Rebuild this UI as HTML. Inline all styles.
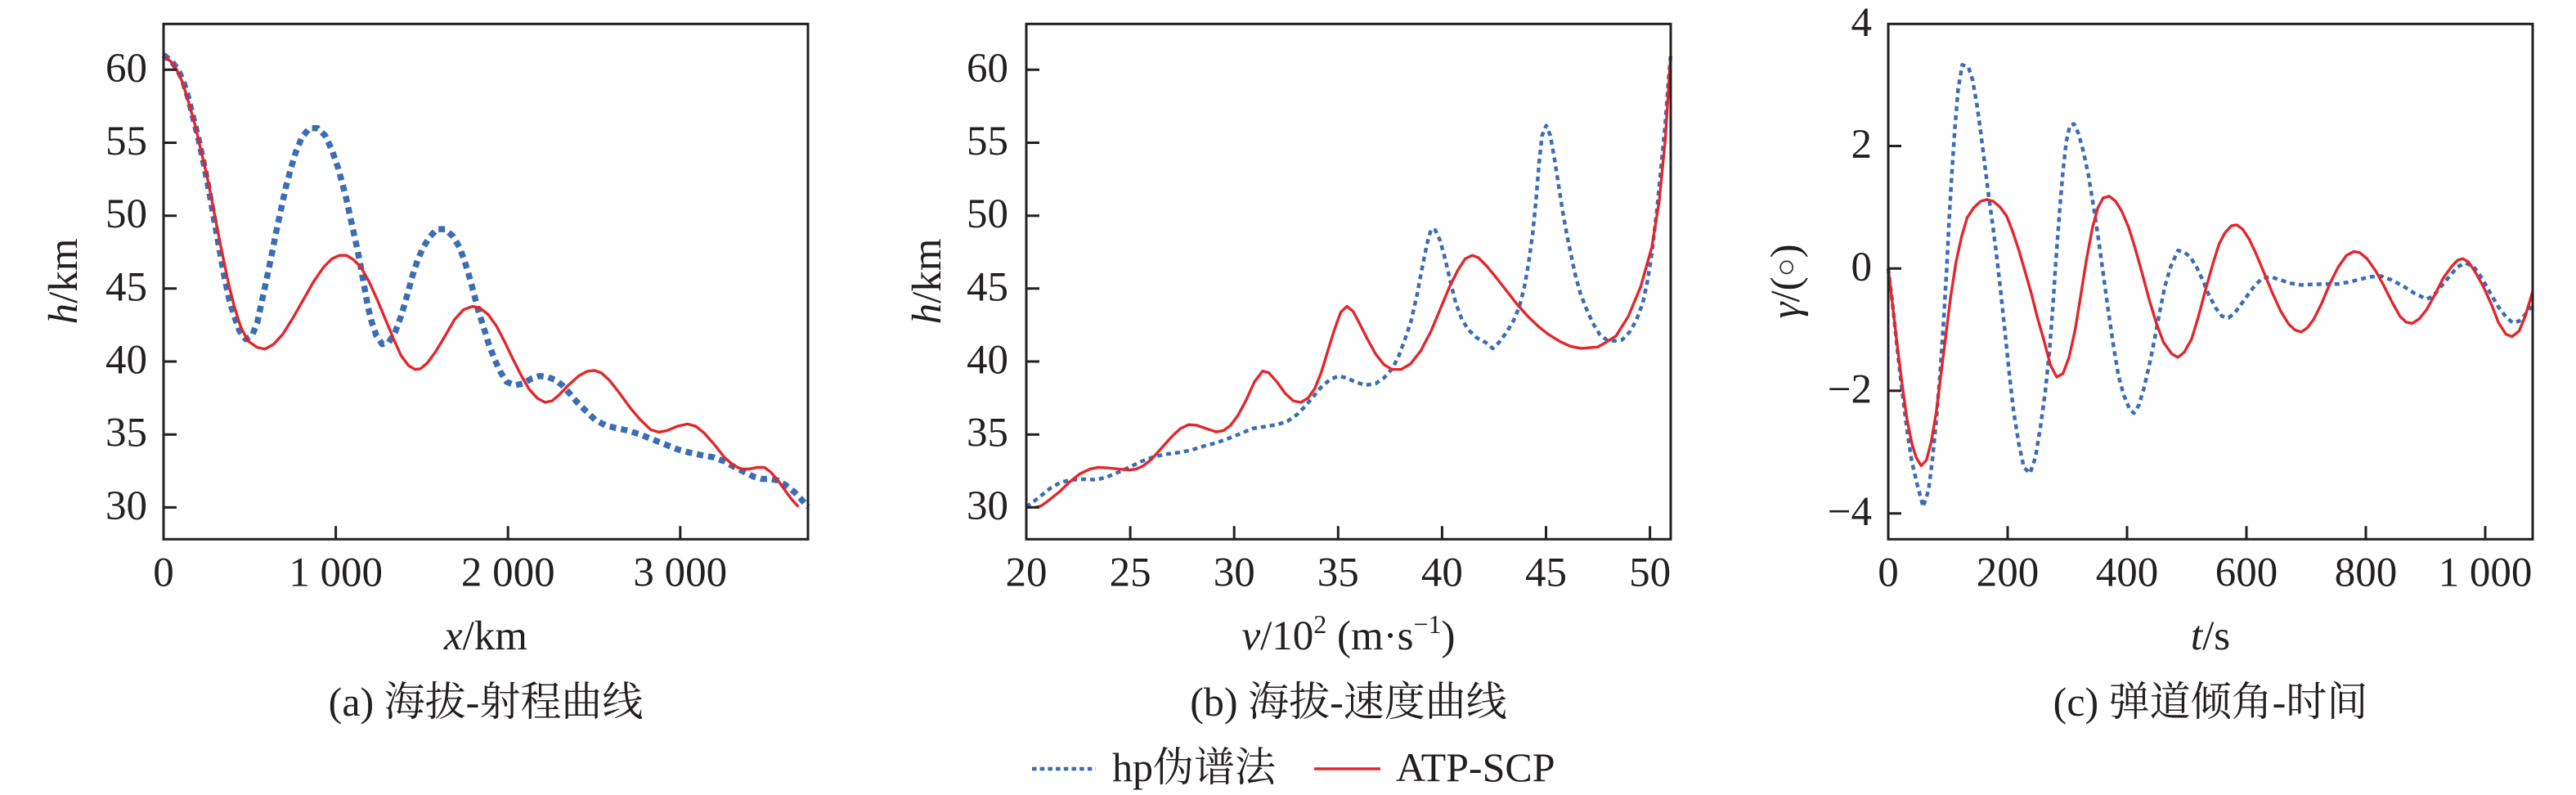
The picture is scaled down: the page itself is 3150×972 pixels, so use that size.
<!DOCTYPE html>
<html><head><meta charset="utf-8"><style>
html,body{margin:0;padding:0;background:#fff;}
svg{display:block;}
text{font-family:"Liberation Serif","Noto Serif CJK SC",serif;fill:#231f20;}
</style></head><body>
<svg width="3150" height="972" viewBox="0 0 3150 972" xmlns="http://www.w3.org/2000/svg">
<rect width="3150" height="972" fill="#fff"/>

<!-- ============ PANEL A ============ -->
<g transform="translate(200,29) scale(0.50255,0.40179)" fill="none" stroke-linejoin="round">
<polyline vector-effect="non-scaling-stroke" stroke="#3b6db5" stroke-width="7.5" stroke-dasharray="8 6" points="0,95 20,115 35,140 48,175 60,225 72,285 85,350 97,420 108,490 118,560 128,630 138,700 148,770 160,840 172,890 185,935 200,960 215,950 228,910 240,840 252,770 262,710 273,640 285,570 297,500 310,440 322,390 337,345 355,318 375,318 393,340 410,385 425,440 436,490 447,545 458,610 467,660 477,720 487,790 497,860 507,910 518,950 532,975 548,970 563,940 578,890 592,830 605,770 618,720 632,680 648,648 665,625 685,625 705,648 720,680 732,720 743,765 755,820 765,870 778,920 790,970 805,1020 820,1060 835,1090 855,1100 875,1095 895,1080 915,1072 935,1075 955,1085 970,1100 988,1125 1005,1150 1025,1175 1050,1205 1075,1222 1100,1230 1130,1238 1160,1250 1190,1265 1220,1280 1250,1295 1280,1305 1310,1313 1340,1320 1365,1332 1390,1350 1410,1362 1435,1378 1455,1385 1475,1385 1495,1390 1515,1405 1535,1425 1550,1445 1568,1470"/>
<polyline vector-effect="non-scaling-stroke" stroke="#e3262b" stroke-width="3.4" points="0,98 18,115 30,135 45,175 60,235 75,300 90,380 105,460 118,540 130,620 143,700 158,790 172,860 187,920 205,965 228,985 247,990 268,975 290,945 315,895 340,840 365,785 390,740 410,715 428,705 445,705 462,718 480,740 500,785 520,840 540,900 560,960 578,1010 596,1040 612,1052 625,1050 642,1032 662,998 685,950 708,900 730,870 752,860 770,865 790,885 810,920 830,968 850,1020 870,1070 890,1113 910,1140 928,1152 945,1148 962,1130 985,1100 1010,1072 1030,1058 1048,1055 1065,1062 1085,1085 1110,1125 1135,1168 1160,1205 1185,1235 1205,1243 1225,1238 1250,1225 1275,1218 1295,1225 1315,1245 1340,1280 1365,1320 1385,1342 1405,1355 1425,1355 1445,1350 1462,1350 1478,1365 1495,1390 1515,1425 1530,1450 1545,1470"/>
</g>
<g stroke="#231f20" stroke-width="3" fill="none">
<rect x="200" y="29.3" width="788" height="630"/>
<path d="M200 85.3h16M200 174.5h16M200 263.7h16M200 352.8h16M200 442h16M200 531.2h16M200 620.4h16M410.6 659.3v-16M621.2 659.3v-16M831.8 659.3v-16"/>
</g>
<g font-size="51" text-anchor="end">
<text x="180" y="99.8">60</text><text x="180" y="189">55</text><text x="180" y="278.2">50</text><text x="180" y="367.3">45</text><text x="180" y="456.5">40</text><text x="180" y="545.7">35</text><text x="180" y="634.9">30</text>
</g>
<g font-size="51" text-anchor="middle">
<text x="200" y="716.5">0</text><text x="410.6" y="716.5">1 000</text><text x="621.2" y="716.5">2 000</text><text x="831.8" y="716.5">3 000</text>
</g>
<text x="594" y="794" font-size="51" text-anchor="middle"><tspan font-style="italic">x</tspan>/km</text>
<text transform="translate(94,344) rotate(-90)" font-size="51" text-anchor="middle"><tspan font-style="italic">h</tspan>/km</text>
<text x="594" y="875" font-size="50" text-anchor="middle">(a) 海拔-射程曲线</text>

<!-- ============ PANEL B ============ -->
<g transform="translate(1255,29) scale(0.50255,0.40179)" fill="none" stroke-linejoin="round">
<polyline vector-effect="non-scaling-stroke" stroke="#3b6db5" stroke-width="4.5" stroke-dasharray="6 5" points="0,1470 20,1452 40,1432 60,1412 85,1395 110,1388 140,1386 170,1388 195,1380 220,1367 250,1350 280,1332 310,1318 340,1310 370,1305 400,1298 430,1286 460,1276 490,1263 520,1248 550,1232 580,1226 610,1220 635,1210 658,1190 678,1165 698,1135 718,1105 740,1082 760,1072 780,1078 800,1090 825,1100 850,1095 870,1078 890,1050 905,1015 920,965 935,910 950,830 962,750 975,670 985,625 995,628 1007,660 1020,720 1033,790 1045,850 1060,900 1075,930 1095,955 1118,970 1135,988 1150,970 1168,940 1185,905 1200,860 1212,800 1222,730 1232,640 1240,540 1248,420 1255,340 1265,310 1275,340 1285,410 1295,490 1305,570 1315,640 1325,700 1335,760 1348,820 1362,865 1378,910 1395,945 1412,962 1430,965 1450,962 1470,935 1485,900 1500,850 1512,780 1522,700 1535,560 1545,430 1555,300 1562,180 1568,95"/>
<polyline vector-effect="non-scaling-stroke" stroke="#e3262b" stroke-width="3.4" points="20,1472 35,1468 55,1450 80,1425 105,1395 130,1370 155,1355 175,1350 200,1352 225,1355 250,1358 268,1355 285,1345 305,1325 330,1290 355,1255 375,1232 395,1220 415,1222 440,1233 462,1242 480,1238 497,1222 515,1192 535,1145 555,1090 575,1057 590,1062 610,1090 630,1125 650,1148 668,1152 685,1140 702,1110 718,1060 735,990 750,930 765,878 780,860 795,875 810,910 830,960 850,1005 870,1037 890,1052 912,1052 935,1035 960,995 985,935 1010,860 1030,800 1050,750 1068,715 1085,705 1100,712 1120,737 1145,775 1170,815 1195,855 1220,890 1245,920 1270,945 1300,968 1325,982 1350,988 1390,984 1410,970 1435,950 1465,890 1495,800 1522,680 1540,540 1555,350 1565,150 1568,100"/>
</g>
<g stroke="#231f20" stroke-width="3" fill="none">
<rect x="1255" y="29.3" width="788" height="630"/>
<path d="M1255 85.3h16M1255 174.5h16M1255 263.7h16M1255 352.8h16M1255 442h16M1255 531.2h16M1255 620.4h16M1382.1 659.3v-16M1509.2 659.3v-16M1636.3 659.3v-16M1763.4 659.3v-16M1890.5 659.3v-16M2017.6 659.3v-16"/>
</g>
<g font-size="51" text-anchor="end">
<text x="1233" y="99.8">60</text><text x="1233" y="189">55</text><text x="1233" y="278.2">50</text><text x="1233" y="367.3">45</text><text x="1233" y="456.5">40</text><text x="1233" y="545.7">35</text><text x="1233" y="634.9">30</text>
</g>
<g font-size="51" text-anchor="middle">
<text x="1255" y="716.5">20</text><text x="1382.1" y="716.5">25</text><text x="1509.2" y="716.5">30</text><text x="1636.3" y="716.5">35</text><text x="1763.4" y="716.5">40</text><text x="1890.5" y="716.5">45</text><text x="2017.6" y="716.5">50</text>
</g>
<text x="1649" y="794" font-size="51" text-anchor="middle"><tspan font-style="italic">v</tspan>/10<tspan font-size="32" dy="-20">2</tspan><tspan dy="20"> (m·s</tspan><tspan font-size="32" dy="-20">−1</tspan><tspan dy="20">)</tspan></text>
<text transform="translate(1150,344) rotate(-90)" font-size="51" text-anchor="middle"><tspan font-style="italic">h</tspan>/km</text>
<text x="1649" y="875" font-size="50" text-anchor="middle">(b) 海拔-速度曲线</text>

<!-- ============ PANEL C ============ -->
<g transform="translate(2309,29) scale(0.50255,0.40179)" fill="none" stroke-linejoin="round">
<polyline vector-effect="non-scaling-stroke" stroke="#3b6db5" stroke-width="4.5" stroke-dasharray="6 5" points="0,745 12,870 22,990 33,1110 45,1230 57,1330 70,1400 85,1470 98,1420 108,1320 118,1190 127,1050 135,900 142,750 148,600 155,450 162,320 170,200 180,125 195,132 205,170 215,240 225,330 235,430 245,530 255,620 265,720 275,830 285,950 295,1070 305,1180 318,1280 330,1350 345,1368 358,1320 370,1230 382,1120 392,1000 400,870 408,720 417,570 425,450 433,360 442,310 452,305 463,335 475,390 487,460 500,560 512,660 523,760 535,870 548,980 560,1070 573,1130 588,1175 598,1185 610,1160 622,1110 635,1040 648,960 660,880 673,800 687,740 705,690 720,695 735,710 750,740 765,780 780,825 797,865 812,890 828,895 843,880 858,855 875,825 893,795 910,775 930,770 955,780 980,790 1005,795 1035,793 1065,792 1095,792 1125,785 1150,777 1175,770 1200,768 1225,780 1255,800 1280,820 1310,838 1325,830 1345,800 1365,770 1385,740 1405,728 1425,740 1445,775 1465,820 1485,862 1505,895 1520,910 1535,905 1550,885 1565,860"/>
<polyline vector-effect="non-scaling-stroke" stroke="#e3262b" stroke-width="3.4" points="0,745 10,850 20,960 32,1080 45,1200 58,1280 68,1320 80,1345 93,1328 105,1270 117,1180 128,1070 140,950 152,830 165,725 178,650 192,590 208,560 225,540 240,535 255,540 272,558 288,585 302,630 318,690 332,750 348,820 362,890 378,960 395,1040 410,1075 425,1065 440,1015 455,930 468,830 482,720 497,620 510,560 523,530 538,525 553,540 568,570 585,620 600,680 618,760 635,840 652,910 670,970 690,1005 705,1015 720,1000 738,960 755,890 772,810 790,730 805,670 820,635 835,615 848,612 862,625 878,655 895,700 915,760 935,820 955,875 975,915 990,932 1005,938 1020,925 1035,900 1055,850 1075,790 1095,740 1115,705 1133,693 1148,697 1165,715 1185,750 1205,795 1225,845 1245,890 1260,908 1275,912 1292,898 1310,870 1330,825 1350,775 1370,740 1385,720 1398,715 1412,725 1428,755 1448,800 1468,855 1485,910 1503,945 1518,952 1535,935 1550,890 1568,815"/>
</g>
<g stroke="#231f20" stroke-width="3" fill="none">
<rect x="2309" y="29.3" width="788" height="630"/>
<path d="M2309 178.5h16M2309 328.3h16M2309 477.8h16M2309 627.7h16M2455 659.3v-16M2601 659.3v-16M2747 659.3v-16M2893 659.3v-16M3039 659.3v-16"/>
</g>
<g font-size="51" text-anchor="end">
<text x="2289" y="44">4</text><text x="2289" y="193">2</text><text x="2289" y="342.8">0</text><text x="2289" y="492.3">−2</text><text x="2289" y="642.2">−4</text>
</g>
<g font-size="51" text-anchor="middle">
<text x="2309" y="716.5">0</text><text x="2455" y="716.5">200</text><text x="2601" y="716.5">400</text><text x="2747" y="716.5">600</text><text x="2893" y="716.5">800</text><text x="3039" y="716.5">1 000</text>
</g>
<text x="2703" y="794" font-size="51" text-anchor="middle"><tspan font-style="italic">t</tspan>/s</text>
<text transform="translate(2200,344) rotate(-90)" font-size="51" text-anchor="middle"><tspan font-style="italic">γ</tspan>/(<tspan font-size="38" dy="-4">○</tspan><tspan dy="4">)</tspan></text>
<text x="2703" y="875" font-size="50" text-anchor="middle">(c) 弹道倾角-时间</text>

<!-- ============ LEGEND ============ -->
<line x1="1262" y1="940" x2="1340" y2="940" stroke="#3b6db5" stroke-width="4.5" stroke-dasharray="5.5 4.2"/>
<text x="1360" y="955" font-size="50">hp伪谱法</text>
<line x1="1607" y1="940" x2="1688" y2="940" stroke="#e3262b" stroke-width="3.4"/>
<text x="1707" y="955" font-size="50">ATP-SCP</text>
</svg>
</body></html>
